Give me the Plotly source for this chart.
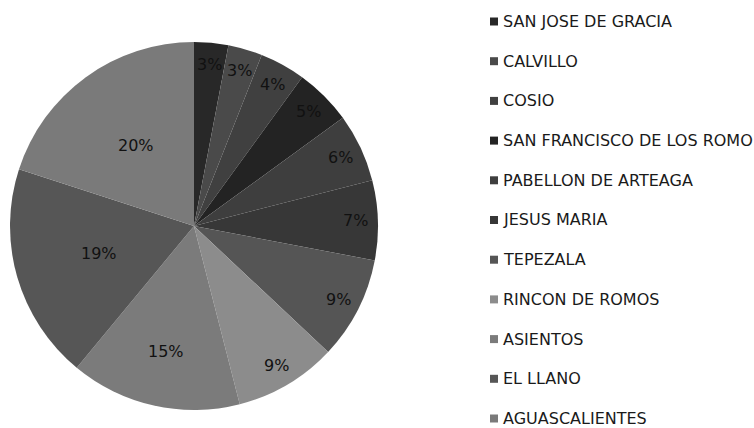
import math
import plotly.graph_objects as go

# Municipalities of Aguascalientes and their share (%)
municipios = [
    "SAN JOSE DE GRACIA", "CALVILLO", "COSIO", "SAN FRANCISCO DE LOS ROMO",
    "PABELLON DE ARTEAGA", "JESUS MARIA", "TEPEZALA", "RINCON DE ROMOS",
    "ASIENTOS", "EL LLANO", "AGUASCALIENTES",
]
porcentajes = [3, 3, 4, 5, 6, 7, 9, 9, 15, 19, 20]
grises = [
    "#282828", "#4a4a4a", "#404040", "#232323", "#3e3e3e", "#373737",
    "#555555", "#8c8c8c", "#7b7b7b", "#565656", "#7a7a7a",
]

W, H = 754, 428
CX, CY, R = 194, 226, 184  # pie centre / radius in pixels
FONT = "DejaVu Sans"

fig = go.Figure(go.Pie(
    labels=municipios,
    values=porcentajes,
    sort=False,
    direction="clockwise",
    rotation=0,
    marker=dict(colors=grises, line=dict(width=0)),
    textinfo="none",
    hoverinfo="label+percent",
    showlegend=False,
    domain=dict(x=[(CX - R) / W, (CX + R) / W],
                y=[(H - CY - R) / H, (H - CY + R) / H]),
))

annotations = []
total = sum(porcentajes)
acc = 0
for v in porcentajes:
    mid = (acc + v / 2) / total * 2 * math.pi
    acc += v
    if v >= 19:
        frac = 0.54
    elif v >= 15:
        frac = 0.70
    else:
        frac = 0.88
    px = CX + frac * R * math.sin(mid)
    py = CY - frac * R * math.cos(mid)
    annotations.append(dict(
        x=px / W, y=1 - py / H, xref="paper", yref="paper",
        xanchor="center", yanchor="middle",
        text=f"{v}%", showarrow=False,
        font=dict(family=FONT, size=16, color="#111111"),
    ))

# Legend drawn at the right: square swatch plus label per municipality
shapes = []
top, step = 21.5, 39.7
for i, (name, col) in enumerate(zip(municipios, grises)):
    y = top + i * step
    shapes.append(dict(
        type="rect", xref="paper", yref="paper",
        x0=490 / W, x1=498 / W, y0=1 - (y + 4) / H, y1=1 - (y - 4) / H,
        fillcolor=col, line=dict(width=0),
    ))
    annotations.append(dict(
        x=501 / W, y=1 - y / H, xref="paper", yref="paper",
        xanchor="left", yanchor="middle", text=name, showarrow=False,
        font=dict(family=FONT, size=16, color="#1a1a1a"),
    ))

fig.update_layout(
    width=W, height=H,
    margin=dict(l=0, r=0, t=0, b=0),
    paper_bgcolor="white", plot_bgcolor="white",
    annotations=annotations, shapes=shapes,
)

fig.write_html("out.html")
